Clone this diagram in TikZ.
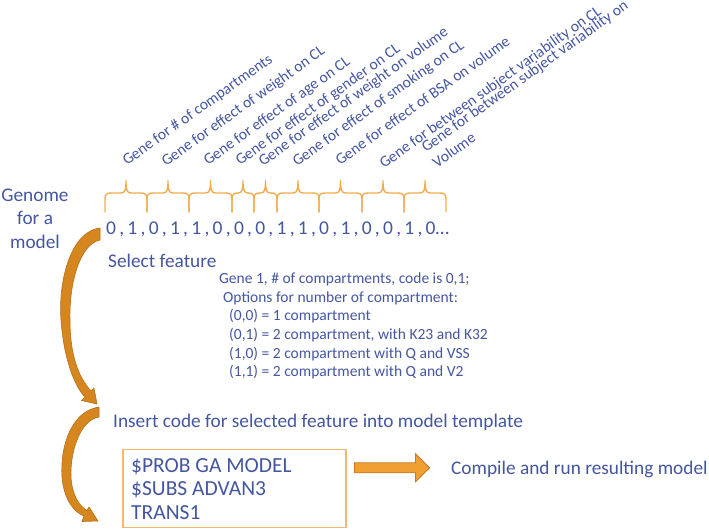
\documentclass[tikz,border=0pt]{standalone}
\usepackage{fontspec}
\setmainfont{Carlito}
\usetikzlibrary{calc}
\definecolor{txt}{RGB}{68,86,160}
\definecolor{bracec}{RGB}{242,172,80}
\definecolor{boxc}{RGB}{245,185,110}
\definecolor{curvefill}{RGB}{214,134,30}
\definecolor{curvedraw}{RGB}{185,110,20}
\definecolor{arrfill}{RGB}{240,160,50}
\definecolor{arrdraw}{RGB}{200,120,30}
\newcommand{\genebrace}[2]{%
  \pgfmathsetmacro{\mx}{(#1+#2)/2}%
  \draw[bracestyle] (#1,212) -- (#1,199) .. controls (#1,194.5) and (#1+1.5,193) .. (#1+6,193)
    -- (\mx-5,193) .. controls (\mx-1,193) and (\mx,190) .. (\mx,180.5)
    .. controls (\mx,190) and (\mx+1,193) .. (\mx+5,193)
    -- (#2-6,193) .. controls (#2-1.5,193) and (#2,194.5) .. (#2,199) -- (#2,212);%
}
\begin{document}
\begin{tikzpicture}[x=1pt,y=-1pt,
  every node/.style={text=txt, inner sep=0pt},
  lbl/.style={anchor=base west, rotate=35.5, font=\fontsize{15.6}{19}\selectfont},
  big/.style={font=\fontsize{19.3}{23.5}\selectfont},
  detail/.style={anchor=base west, font=\fontsize{15.5}{18.7}\selectfont},
  codetext/.style={anchor=base west, font=\fontsize{21.5}{23.5}\selectfont},
  bracestyle/.style={draw=bracec, line width=1.4pt, line cap=round, line join=round},
  curvearrow/.style={fill=curvefill, draw=curvedraw, line width=0.6pt, line join=round},
  flatarrow/.style={fill=arrfill, draw=arrdraw, line width=0.8pt, line join=miter}]
\useasboundingbox (0,0) rectangle (709,528);

% rotated gene labels
\node[lbl] (g1) at (127,166) {Gene for \# of compartments};
\node[lbl] (g2) at (166,167) {Gene for effect of weight on CL};
\node[lbl] (g3) at (208,166) {Gene for effect of age on CL};
\node[lbl] (g4) at (240,166) {Gene for effect of gender on CL};
\node[lbl] (g5) at (263,167) {Gene for effect of weight on volume};
\node[lbl] (g6) at (297,167) {Gene for effect of smoking on CL};
\node[lbl] (g7) at (340,166) {Gene for effect of BSA on volume};
\node[lbl] (g8) at (384,169) {Gene for between subject variability on CL};
\node[lbl] (g9a) at (426,153) {Gene for between subject variability on};
\node[lbl] (g9b) at (437,168.5) {Volume};

% braces
\genebrace{105}{147}
\genebrace{147}{189}
\genebrace{189}{232}
\genebrace{232}{254}
\genebrace{254}{277}
\genebrace{277}{319}
\genebrace{319}{362}
\genebrace{362}{404}
\genebrace{404}{446}

% genome label
\node[big, anchor=base] (gen1) at (35,201) {Genome};
\node[big, anchor=base] (gen2) at (35,224.5) {for a};
\node[big, anchor=base] (gen3) at (35,248) {model};

% bit string
\node[anchor=base west, font=\fontsize{19.5}{23}\selectfont] (bits) at (106,234)
  {\spaceskip=3.27pt\relax 0 , 1 , 0 , 1 , 1 , 0 , 0 , 0 , 1 , 1 , 0 , 1 , 0 , 0 , 1 , 0…};

\node[big, anchor=base west] (select) at (108,267) {Select feature};

% details
\node[detail] (d1) at (219,283) {Gene 1, \# of compartments, code is 0,1;};
\node[detail] (d2) at (223,302) {Options for number of compartment:};
\node[detail] (d3) at (229,320.5) {(0,0) = 1 compartment};
\node[detail] (d4) at (229,339) {(0,1) = 2 compartment, with K23 and K32};
\node[detail] (d5) at (229,358) {(1,0) = 2 compartment with Q and VSS};
\node[detail] (d6) at (229,376.5) {(1,1) = 2 compartment with Q and V2};

\node[big, anchor=base west] (insert) at (113,427) {Insert code for selected feature into model template};

% code box
\node[draw=boxc, line width=1.5pt, minimum width=223pt, minimum height=78pt, anchor=north west] (box) at (122,448.5) {};
\node[codetext] (c1) at (131,472) {\$PROB GA MODEL};
\node[codetext] (c2) at (131,495.5) {\$SUBS ADVAN3};
\node[codetext] (c3) at (131,519) {TRANS1};

\node[big, anchor=base west] (compile) at (451,474) {Compile and run resulting model};

% straight block arrow from box to compile text
\coordinate (a0) at ($(box.east)+(8,-20.5)$);
\draw[flatarrow] ($(a0)+(0,-5)$) -- ++(61,0) -- ++(0,-9) -- ++(14,14) -- ++(-14,14) -- ++(0,-9) -- ++(-61,0) -- cycle;

% curved arrow 1 (genome -> insert code)
\draw[curvearrow] (100,228) .. controls (72,231) and (58,278) .. (61,320)
  .. controls (64,362) and (76,388) .. (85,397)
  -- (81.5,400.5) -- (97,404) -- (94,388) -- (91,391)
  .. controls (81,380) and (70,360) .. (70,320)
  .. controls (69,283) and (80,244) .. (100,240) -- cycle;

% curved arrow 2 (insert code -> code box)
\draw[curvearrow] (99,407) .. controls (72,411) and (60,445) .. (62,477)
  .. controls (64,500) and (74,512) .. (84,516)
  -- (82,521.5) -- (98,521) -- (89,507) -- (87,510.5)
  .. controls (79,506) and (72,495) .. (71,477)
  .. controls (70,452) and (80,420) .. (99,417) -- cycle;
\end{tikzpicture}
\end{document}
